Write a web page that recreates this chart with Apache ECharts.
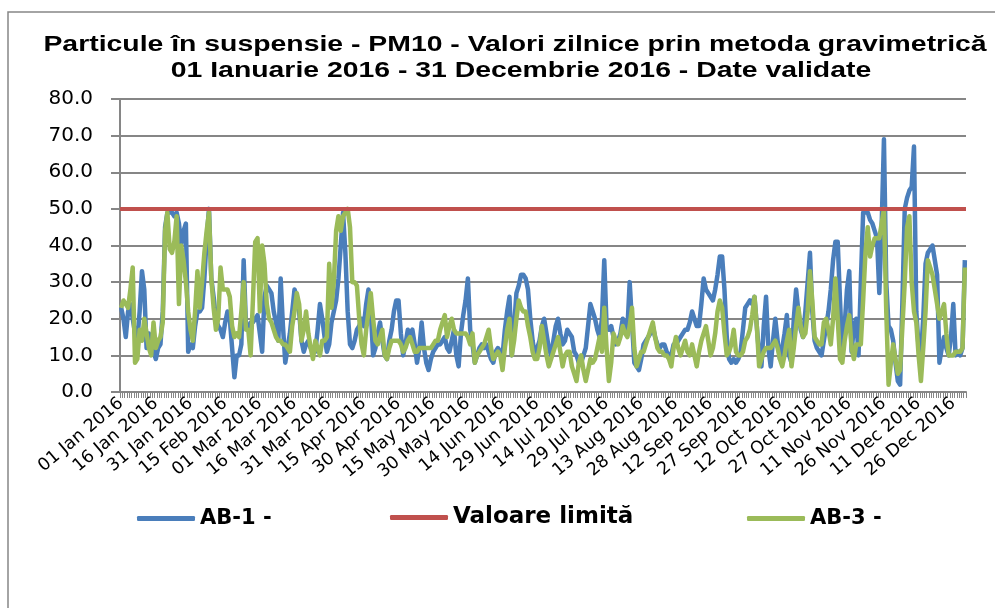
<!DOCTYPE html>
<html>
<head>
<meta charset="utf-8">
<script src="https://cdn.jsdelivr.net/npm/echarts@6/dist/echarts.min.js"></script>
<style>
  html, body { margin: 0; padding: 0; background: #fff; }
  #chart { width: 995px; height: 608px; }
</style>
</head>
<body>
<div id="chart"></div>
<script>
  // zile 2016 (an bisect)
  var monthNames = ['Jan', 'Feb', 'Mar', 'Apr', 'May', 'Jun', 'Jul', 'Aug', 'Sep', 'Oct', 'Nov', 'Dec'];
  var monthDays = [31, 29, 31, 30, 31, 30, 31, 31, 30, 31, 30, 31];
  var days = [];
  for (var m = 0; m < 12; m++) {
    for (var d = 1; d <= monthDays[m]; d++) {
      days.push((d < 10 ? '0' + d : '' + d) + ' ' + monthNames[m] + ' 2016');
    }
  }

  var ab1 = [
    23, 20, 15, 22, 24, 20, 16, 14, 22, 33,
    28, 12, 16, 13, 11, 9, 12, 13, 22, 45,
    49, 49, 49, 48, 49, 46, 40, 44, 46, 11,
    13, 12, 18, 22, 22, 23, 31, 42, 50, 31,
    26, 20, 18, 17, 15, 19, 22, 20, 12, 4,
    10, 10, 13, 36, 18, 17, 19, 19, 20, 21,
    16, 11, 26, 29, 28, 27, 22, 19, 14, 31,
    18, 8, 12, 16, 22, 28, 26, 22, 14, 11,
    13, 14, 12, 11, 11, 17, 24, 20, 15, 11,
    13, 19, 22, 25, 31, 40, 49, 38, 22, 13,
    12, 14, 17, 18, 20, 18, 24, 28, 22, 10,
    12, 16, 19, 14, 10, 9, 14, 17, 22, 25,
    25, 16, 10, 13, 17, 16, 17, 13, 8, 12,
    19, 12, 8, 6, 9, 11, 12, 13, 13, 14,
    15, 12, 11, 14, 17, 10, 7, 16, 21, 25,
    31, 17, 13, 8, 10, 12, 13, 12, 13, 11,
    9, 8, 11, 12, 11, 10, 17, 22, 26, 10,
    18, 27, 29, 32, 32, 31, 28, 20, 14, 10,
    12, 14, 18, 20, 16, 12, 10, 14, 18, 20,
    16, 13, 14, 17, 16, 15, 11, 10, 8, 8,
    10, 12, 18, 24, 22, 20, 17, 15, 20, 36,
    18, 17, 18, 15, 13, 14, 16, 20, 19, 17,
    30, 19, 8, 7, 6, 9, 13, 14, 15, 16,
    18, 15, 13, 12, 13, 13, 11, 10, 10, 13,
    13, 14, 15, 16, 17, 17, 19, 22, 20, 18,
    18, 24, 31, 28, 27, 26, 25, 28, 32, 37,
    37, 28, 15, 9, 8, 9, 8, 9, 11, 17,
    23, 24, 25, 24, 26, 18, 10, 7, 18, 26,
    12, 7, 14, 20, 14, 9, 12, 16, 21, 10,
    8, 20, 28, 22, 17, 15, 22, 30, 38, 22,
    14, 12, 11, 10, 14, 18, 22, 28, 36, 41,
    41, 25, 10, 18, 28, 33, 11, 18, 20, 10,
    30, 49, 49, 49, 47, 46, 44, 42, 27, 45,
    69, 30, 18, 17, 14, 8, 3, 2, 25, 50,
    53, 55, 56, 67, 22, 12, 10, 20, 35, 38,
    39, 40, 36, 32, 8, 12, 15, 12, 10, 15,
    24, 10, 11, 10, 12, 36
  ];

  var ab3 = [
    23, 25, 24, 23, 28, 34, 8, 9, 17, 14,
    20, 16, 12, 10, 19, 12, 14, 15, 19, 44,
    49, 39, 38, 41, 48, 24, 40, 36, 30, 22,
    17, 14, 22, 33, 23, 30, 38, 44, 49, 31,
    23, 17, 20, 34, 28, 28, 28, 26, 18, 15,
    16, 15, 22, 30, 17, 17, 10, 25, 41, 42,
    22, 40, 35, 24, 20, 19, 17, 15, 14, 14,
    13, 13, 12, 11, 18, 22, 27, 24, 14, 17,
    22, 16, 12, 9, 14, 12, 10, 14, 14, 15,
    35, 23, 30, 44, 48, 44, 48, 49, 50, 45,
    30, 30, 29, 20, 13, 10, 17, 22, 27, 20,
    14, 13, 15, 17, 10, 9, 12, 14, 14, 14,
    14, 13, 11, 12, 14, 15, 13, 11, 11, 12,
    12, 12, 12, 12, 12, 13, 14, 14, 17, 19,
    21, 15, 18, 20, 17, 16, 16, 16, 16, 16,
    15, 13, 16, 8, 10, 11, 12, 13, 15, 17,
    12, 9, 10, 11, 10, 6, 12, 17, 20, 10,
    14, 20, 25, 23, 22, 22, 18, 15, 11, 9,
    9, 12, 18, 14, 10, 7, 9, 11, 13, 15,
    11, 7, 10, 11, 11, 7, 5, 3, 8, 10,
    6, 3, 6, 9, 8, 9, 12, 15, 11, 23,
    12, 3, 8, 16, 14, 13, 15, 18, 16, 15,
    18, 23, 12, 7, 9, 11, 11, 13, 15, 17,
    19, 15, 12, 11, 11, 10, 10, 9, 7, 12,
    15, 12, 10, 12, 14, 11, 10, 13, 10, 7,
    11, 14, 16, 18, 14, 10, 12, 16, 22, 25,
    23, 16, 10, 11, 13, 17, 11, 10, 10, 11,
    14, 15, 17, 21, 26, 18, 7, 9, 11, 12,
    12, 12, 13, 14, 12, 9, 7, 10, 14, 17,
    7, 12, 18, 23, 18, 15, 16, 22, 33, 25,
    15, 14, 13, 13, 19, 20, 17, 13, 20, 31,
    20, 9, 8, 14, 18, 21, 12, 9, 13, 13,
    13, 25, 38, 45, 37, 40, 42, 42, 42, 46,
    50, 22, 2, 8, 13, 9, 5, 6, 18, 30,
    45, 48, 30, 22, 19, 10, 3, 12, 22, 36,
    34, 32, 28, 24, 20, 22, 24, 16, 10, 10,
    10, 11, 11, 11, 12, 34
  ];

  var limitValue = 50;
  var titleLines = [
    'Particule în suspensie - PM10 - Valori zilnice prin metoda gravimetrică',
    '01 Ianuarie 2016 - 31 Decembrie 2016 - Date validate'
  ];
  var seriesNames = ['AB-1 -', 'Valoare limită', 'AB-3 -'];
  var seriesColors = ['#4A7EBB', '#C0504D', '#9BBB59'];

  var titleFont = 'bold 22px "Liberation Sans", Arial, sans-serif';
  var font = '"DejaVu Sans", sans-serif';
  var gridColor = '#868686';

  function legendAt(name, left, top, size) {
    return {
      data: [name], left: left, top: top, padding: 0,
      icon: 'roundRect', itemWidth: 58, itemHeight: 5, itemGap: 0,
      textStyle: { color: '#000', fontSize: size, fontWeight: 'bold', fontFamily: font }
    };
  }

  var chart = echarts.init(document.getElementById('chart'));
  chart.setOption({
    animation: false,
    backgroundColor: '#fff',
    graphic: [
      {
        type: 'rect', silent: true,
        shape: { x: 8, y: 12, width: 1000, height: 700 },
        style: { fill: 'none', stroke: gridColor, lineWidth: 1.5 }
      },
      {
        type: 'text', x: 515, y: 45, scaleX: 1.29,
        style: { text: titleLines[0], fill: '#000', font: titleFont,
          align: 'center', verticalAlign: 'middle', textAlign: 'center', textVerticalAlign: 'middle' }
      },
      {
        type: 'text', x: 521, y: 71, scaleX: 1.29,
        style: { text: titleLines[1], fill: '#000', font: titleFont,
          align: 'center', verticalAlign: 'middle', textAlign: 'center', textVerticalAlign: 'middle' }
      }
    ],
    grid: {
      left: 120, right: 29, top: 99, bottom: 216,
      containLabel: false, outerBoundsMode: 'none'
    },
    legend: [
      legendAt(seriesNames[0], 137, 508, 21),
      legendAt(seriesNames[1], 390, 506, 23),
      legendAt(seriesNames[2], 747, 508, 21)
    ],
    xAxis: {
      type: 'category',
      data: days,
      boundaryGap: true,
      axisLine: { lineStyle: { color: gridColor, width: 2 } },
      axisTick: { show: true, interval: 0, length: 6, lineStyle: { color: gridColor, width: 1 } },
      axisLabel: {
        interval: 14, rotate: 40, margin: 9,
        color: '#000', fontSize: 17.5, fontFamily: font
      },
      splitLine: { show: false }
    },
    yAxis: {
      type: 'value',
      min: 0, max: 80, interval: 10,
      axisLine: { show: true, lineStyle: { color: gridColor, width: 2 } },
      axisTick: { show: true, length: 9, lineStyle: { color: gridColor, width: 2 } },
      splitLine: { lineStyle: { color: gridColor, width: 2 } },
      axisLabel: {
        margin: 27, color: '#000', fontSize: 20, fontFamily: font,
        formatter: function (v) { return v.toFixed(1); }
      }
    },
    series: [
      {
        name: seriesNames[0], type: 'line', data: ab1,
        symbol: 'none', color: seriesColors[0],
        lineStyle: { color: seriesColors[0], width: 4.5, join: 'round' }
      },
      {
        name: seriesNames[1], type: 'line', data: [],
        symbol: 'none', color: seriesColors[1],
        lineStyle: { color: seriesColors[1], width: 4 },
        markLine: {
          silent: true, symbol: ['none', 'none'],
          label: { show: false },
          lineStyle: { color: seriesColors[1], width: 4, type: 'solid' },
          data: [{ yAxis: limitValue }]
        }
      },
      {
        name: seriesNames[2], type: 'line', data: ab3,
        symbol: 'none', color: seriesColors[2],
        lineStyle: { color: seriesColors[2], width: 4.5, join: 'round' }
      }
    ]
  });
</script>
</body>
</html>
